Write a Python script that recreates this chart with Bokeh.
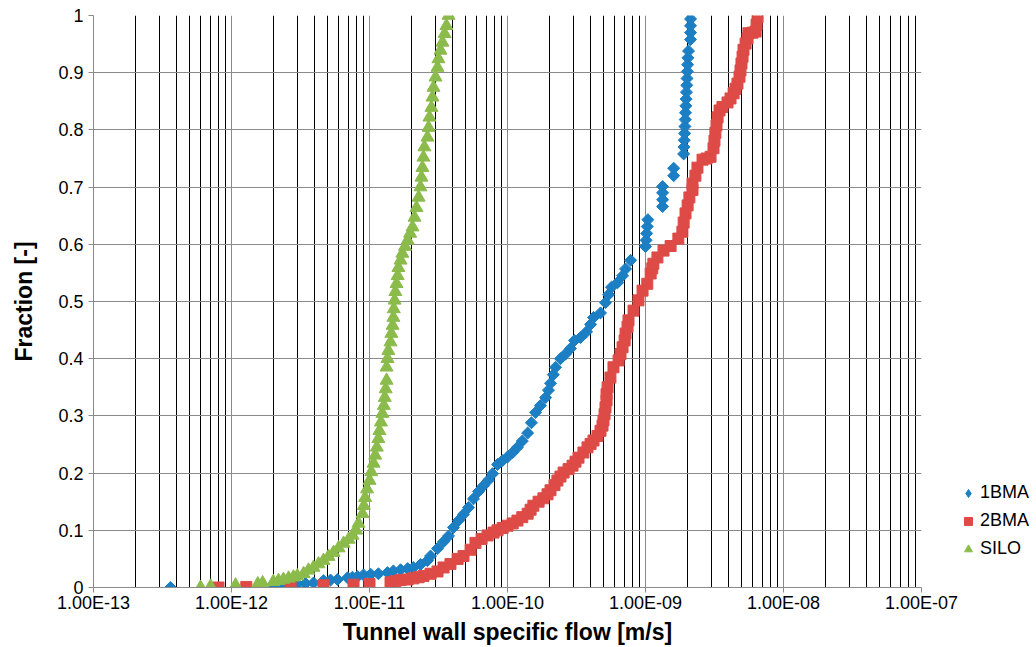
import math
from bokeh.plotting import figure
from bokeh.layouts import row
from bokeh.models import Range1d, FixedTicker, CustomJSTickFormatter, Legend, LegendItem
from bokeh.embed import file_html
from bokeh.resources import INLINE

# ---------------- data ----------------
x_decades = [1e-13, 1e-12, 1e-11, 1e-10, 1e-9, 1e-8, 1e-7]
y_ticks = [0, 0.1, 0.2, 0.3, 0.4, 0.5, 0.6, 0.7, 0.8, 0.9, 1.0]
series_names = ["1BMA", "2BMA", "SILO"]

bma1_flow = [3.61e-13, 1.98e-12, 2.27e-12, 2.68e-12, 3.01e-12, 3.44e-12, 3.93e-12, 4.64e-12,
             5.22e-12, 5.86e-12, 6.93e-12, 7.53e-12, 8.19e-12, 9.05e-12, 1.02e-11, 1.16e-11,
             1.35e-11, 1.49e-11, 1.68e-11, 1.89e-11, 2.08e-11, 2.34e-11, 2.63e-11, 2.77e-11,
             3.11e-11, 3.44e-11, 3.74e-11, 4.06e-11, 4.42e-11, 4.80e-11, 5.22e-11, 5.67e-11,
             6.17e-11, 6.70e-11, 7.29e-11, 7.80e-11, 8.47e-11, 9.22e-11, 1.00e-10, 1.09e-10,
             1.18e-10, 1.28e-10, 1.40e-10, 1.49e-10, 1.60e-10, 1.73e-10, 1.89e-10, 1.98e-10,
             2.05e-10, 2.15e-10, 2.23e-10, 2.42e-10, 2.63e-10, 2.86e-10, 3.06e-10, 3.38e-10,
             3.74e-10, 4.00e-10, 4.20e-10, 4.72e-10, 5.13e-10, 5.40e-10, 5.67e-10, 6.28e-10,
             6.82e-10, 7.17e-10, 7.80e-10,
             1.00e-9, 1.01e-9, 1.02e-9, 1.03e-9, 1.04e-9,
             1.33e-9, 1.33e-9, 1.33e-9, 1.33e-9,
             1.60e-9, 1.60e-9,
             1.89e-9, 1.90e-9, 1.91e-9, 1.92e-9, 1.93e-9, 1.94e-9, 1.95e-9, 1.96e-9,
             1.97e-9, 1.98e-9, 1.99e-9, 2.00e-9, 2.01e-9, 2.02e-9, 2.03e-9, 2.05e-9,
             2.12e-9, 2.12e-9, 2.12e-9, 2.12e-9]
bma1_frac = [0.000, 0.002, 0.003, 0.004, 0.006, 0.007, 0.008, 0.012,
             0.013, 0.014, 0.017, 0.018, 0.019, 0.022, 0.023, 0.024,
             0.026, 0.029, 0.031, 0.033, 0.035, 0.040, 0.047, 0.055,
             0.068, 0.080, 0.090, 0.105, 0.117, 0.128, 0.140, 0.155,
             0.168, 0.178, 0.188, 0.199, 0.215, 0.222, 0.228, 0.236,
             0.245, 0.256, 0.270, 0.288, 0.306, 0.318, 0.332, 0.345,
             0.357, 0.372, 0.385, 0.400, 0.408, 0.418, 0.432, 0.437,
             0.447, 0.460, 0.472, 0.480, 0.498, 0.512, 0.525, 0.533,
             0.545, 0.557, 0.572,
             0.596, 0.607, 0.619, 0.631, 0.643,
             0.666, 0.678, 0.690, 0.701,
             0.720, 0.733,
             0.758, 0.770, 0.782, 0.794, 0.806, 0.818, 0.830, 0.842,
             0.854, 0.866, 0.878, 0.890, 0.902, 0.914, 0.926, 0.938,
             0.958, 0.970, 0.982, 0.994]

bma2_flow = [8.05e-13, 1.28e-12, 2.68e-12, 4.64e-12, 7.66e-12, 1.00e-11, 1.42e-11, 1.54e-11,
             1.68e-11, 1.89e-11, 2.08e-11, 2.27e-11, 2.46e-11, 2.77e-11, 3.11e-11, 3.44e-11,
             3.86e-11, 4.35e-11, 4.80e-11, 5.40e-11, 5.86e-11, 6.49e-11, 7.17e-11, 7.92e-11,
             8.47e-11, 9.22e-11, 1.00e-10, 1.09e-10, 1.18e-10, 1.28e-10, 1.40e-10, 1.47e-10,
             1.54e-10, 1.68e-10, 1.82e-10, 1.95e-10, 2.05e-10, 2.19e-10, 2.30e-10, 2.42e-10,
             2.55e-10, 2.77e-10, 2.96e-10, 3.11e-10, 3.27e-10, 3.55e-10, 3.80e-10, 4.00e-10,
             4.20e-10, 4.49e-10, 4.72e-10, 4.88e-10, 4.96e-10, 5.05e-10, 5.13e-10, 5.22e-10,
             5.22e-10, 5.31e-10, 5.57e-10, 5.86e-10, 6.38e-10, 6.59e-10, 6.82e-10, 7.06e-10,
             7.17e-10, 7.41e-10, 7.53e-10, 8.19e-10, 8.89e-10, 9.52e-10, 1.03e-9, 1.09e-9,
             1.12e-9, 1.14e-9, 1.22e-9, 1.35e-9, 1.52e-9, 1.73e-9, 1.85e-9, 1.89e-9,
             1.95e-9, 2.02e-9, 2.08e-9, 2.19e-9, 2.19e-9, 2.30e-9, 2.38e-9, 2.59e-9,
             2.77e-9, 2.96e-9, 3.11e-9, 3.16e-9, 3.21e-9, 3.27e-9, 3.33e-9, 3.44e-9,
             3.61e-9, 3.93e-9, 4.13e-9, 4.35e-9, 4.49e-9, 4.64e-9, 4.80e-9, 4.88e-9,
             4.96e-9, 5.05e-9, 5.13e-9, 5.31e-9, 5.49e-9, 5.57e-9, 5.97e-9, 6.28e-9,
             6.38e-9, 6.49e-9]
bma2_frac = [0.000, 0.001, 0.002, 0.004, 0.005, 0.006, 0.009, 0.011,
             0.013, 0.014, 0.016, 0.018, 0.020, 0.024, 0.028, 0.035,
             0.041, 0.050, 0.055, 0.066, 0.078, 0.085, 0.091, 0.096,
             0.100, 0.104, 0.108, 0.112, 0.117, 0.123, 0.129, 0.136,
             0.143, 0.150, 0.156, 0.163, 0.170, 0.179, 0.187, 0.194,
             0.201, 0.207, 0.213, 0.220, 0.227, 0.236, 0.245, 0.251,
             0.257, 0.265, 0.274, 0.283, 0.292, 0.303, 0.315, 0.327,
             0.338, 0.350, 0.367, 0.385, 0.397, 0.408, 0.420, 0.432,
             0.444, 0.456, 0.467, 0.484, 0.502, 0.519, 0.531, 0.549,
             0.558, 0.566, 0.577, 0.589, 0.597, 0.610, 0.622, 0.638,
             0.654, 0.668, 0.682, 0.695, 0.706, 0.720, 0.734, 0.748,
             0.750, 0.753, 0.768, 0.781, 0.795, 0.808, 0.822, 0.834,
             0.840, 0.848, 0.855, 0.864, 0.872, 0.881, 0.893, 0.904,
             0.916, 0.928, 0.940, 0.951, 0.960, 0.969, 0.970, 0.972,
             0.984, 0.997]

silo_flow = [5.97e-13, 7.06e-13, 1.07e-12, 1.55e-12, 1.68e-12, 2.01e-12, 2.19e-12, 2.38e-12,
             2.59e-12, 2.81e-12, 3.00e-12, 3.33e-12, 3.61e-12, 3.93e-12, 4.27e-12, 4.64e-12,
             5.05e-12, 5.49e-12, 5.97e-12, 6.49e-12, 7.06e-12, 7.53e-12, 8.00e-12, 8.32e-12,
             8.90e-12, 9.10e-12, 9.30e-12, 9.60e-12, 1.00e-11, 1.03e-11, 1.07e-11, 1.10e-11,
             1.13e-11, 1.16e-11, 1.18e-11, 1.21e-11, 1.24e-11, 1.27e-11, 1.29e-11, 1.31e-11,
             1.33e-11, 1.33e-11, 1.35e-11, 1.37e-11, 1.42e-11, 1.44e-11, 1.47e-11, 1.49e-11,
             1.50e-11, 1.52e-11, 1.54e-11, 1.57e-11, 1.60e-11, 1.62e-11, 1.68e-11, 1.73e-11,
             1.81e-11, 1.89e-11, 1.97e-11, 2.05e-11, 2.12e-11, 2.19e-11, 2.27e-11, 2.34e-11,
             2.38e-11, 2.42e-11, 2.46e-11, 2.50e-11, 2.63e-11, 2.68e-11, 2.72e-11, 2.81e-11,
             2.86e-11, 2.91e-11, 3.01e-11, 3.11e-11, 3.16e-11, 3.27e-11, 3.38e-11, 3.50e-11,
             3.61e-11, 3.74e-11]
silo_frac = [0.000, 0.002, 0.004, 0.006, 0.008, 0.010, 0.012, 0.014,
             0.016, 0.018, 0.020, 0.024, 0.030, 0.035, 0.041, 0.047,
             0.054, 0.061, 0.069, 0.077, 0.084, 0.091, 0.100, 0.112,
             0.129, 0.143, 0.157, 0.172, 0.187, 0.202, 0.217, 0.231,
             0.245, 0.260, 0.274, 0.289, 0.304, 0.318, 0.332, 0.347,
             0.362, 0.385, 0.400, 0.414, 0.429, 0.444, 0.458, 0.472,
             0.487, 0.502, 0.517, 0.531, 0.545, 0.559, 0.572, 0.584,
             0.596, 0.607, 0.619, 0.630, 0.647, 0.664, 0.682, 0.700,
             0.717, 0.734, 0.752, 0.770, 0.787, 0.804, 0.822, 0.839,
             0.857, 0.874, 0.892, 0.909, 0.924, 0.939, 0.953, 0.968,
             0.982, 1.000]

# ---------------- styling ----------------
FONT = "Liberation Sans"
BLUE = "#1C7EC3"
RED = "#DE4B47"
GREEN = "#8BBB4B"
GRID_GREY = "#8A8A8A"

minor_ticks = [m * d for d in x_decades[:-1] for m in range(2, 10)]

p = figure(width=958, height=647, x_axis_type="log",
           x_range=Range1d(1e-13, 1e-7), y_range=Range1d(0, 1),
           output_backend="svg", toolbar_location=None,
           min_border_left=93, min_border_right=37, min_border_top=15, min_border_bottom=60)
p.outline_line_color = None
p.background_fill_color = "white"

p.xaxis.ticker = FixedTicker(ticks=x_decades, minor_ticks=minor_ticks)
p.yaxis.ticker = FixedTicker(ticks=y_ticks)
p.xaxis.formatter = CustomJSTickFormatter(code="""
const e = Math.round(Math.log10(tick));
const a = Math.abs(e);
return '1.00E' + (e < 0 ? '-' : '+') + (a < 10 ? '0' : '') + a;
""")
p.yaxis.formatter = CustomJSTickFormatter(code="return (Math.round(tick*10)/10).toString();")

p.xgrid.grid_line_color = GRID_GREY
p.xgrid.minor_grid_line_color = "black"
p.xgrid.minor_grid_line_width = 1
p.ygrid.grid_line_color = GRID_GREY

for ax in (p.xaxis, p.yaxis):
    ax.axis_line_color = GRID_GREY
    ax.major_tick_line_color = GRID_GREY
    ax.major_tick_out = 5
    ax.major_tick_in = 0
    ax.minor_tick_line_color = None
    ax.major_label_text_font = FONT
    ax.major_label_text_font_size = "18px"
    ax.major_label_text_color = "black"
    ax.axis_label_text_font = FONT
    ax.axis_label_text_font_style = "bold"
    ax.axis_label_text_font_size = "23px"
    ax.axis_label_text_color = "black"

p.xaxis.axis_label = "Tunnel wall specific flow [m/s]"
p.yaxis.axis_label = "Fraction [-]"
p.xaxis.major_label_standoff = 0
p.xaxis.axis_label_standoff = 3
p.yaxis.major_label_standoff = 5
p.yaxis.axis_label_standoff = 18

r1 = p.scatter(bma1_flow, bma1_frac, marker="square", angle=math.pi / 4, size=8.5,
               fill_color=BLUE, line_color=BLUE)
r2 = p.scatter(bma2_flow, bma2_frac, marker="square", size=11,
               fill_color=RED, line_color=RED)
r3 = p.scatter(silo_flow, silo_frac, marker="triangle", size=13,
               fill_color=GREEN, line_color=GREEN)

# ---------------- legend (separate narrow panel on the right) ----------------
lg = figure(width=78, height=647, output_backend="svg", toolbar_location=None,
            x_axis_type=None, y_axis_type=None,
            x_range=Range1d(0, 1), y_range=Range1d(0, 1),
            min_border_left=0, min_border_right=0, min_border_top=0, min_border_bottom=0)
lg.outline_line_color = None
lg.xgrid.visible = False
lg.ygrid.visible = False
# swatch glyphs sit outside the visible range; only their legend entries show
l1 = lg.scatter([-5], [-5], marker="diamond", size=14, fill_color=BLUE, line_color=BLUE)
l2 = lg.scatter([-5], [-5], marker="square", size=10, fill_color=RED, line_color=RED)
l3 = lg.scatter([-5], [-5], marker="triangle", size=11, fill_color=GREEN, line_color=GREEN)

legend = Legend(items=[LegendItem(label=series_names[0], renderers=[l1]),
                       LegendItem(label=series_names[1], renderers=[l2]),
                       LegendItem(label=series_names[2], renderers=[l3])],
                location=(0, 28), orientation="vertical",
                border_line_color=None, background_fill_alpha=0,
                padding=0, margin=0, spacing=7,
                glyph_width=20, glyph_height=20, label_height=20, label_standoff=2,
                label_text_font=FONT, label_text_font_size="18px", label_text_color="black")
lg.add_layout(legend)

layout = row(p, lg, spacing=0)
open("out.html", "w").write(file_html(layout, INLINE))
